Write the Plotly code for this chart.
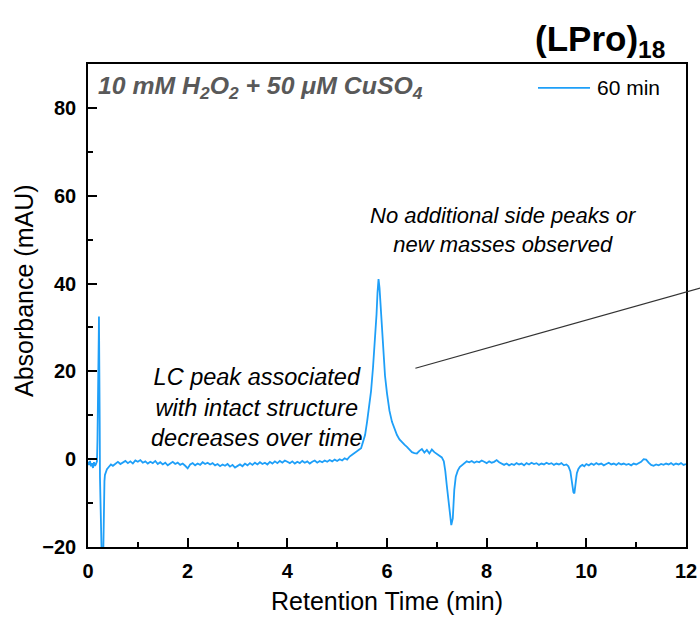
import plotly.graph_objects as go

# ---- data ----
time_min = [
    0.00, 0.02, 0.04, 0.06, 0.08, 0.10, 0.12, 0.14, 0.16, 0.18, 0.19, 0.20, 0.21, 0.215, 0.22,
    0.225, 0.23, 0.235, 0.24, 0.25, 0.26, 0.27, 0.28, 0.29, 0.30, 0.31, 0.32, 0.33, 0.34, 0.36,
    0.38, 0.40, 0.43, 0.46, 0.50,
    0.55, 0.60, 0.65, 0.70, 0.75, 0.80, 0.85, 0.90, 0.95, 1.00, 1.05, 1.10, 1.15, 1.20, 1.25,
    1.30, 1.35, 1.40, 1.45, 1.50, 1.55, 1.60, 1.65, 1.70, 1.75, 1.80, 1.85, 1.90, 1.95, 2.00,
    2.05, 2.10, 2.15, 2.20, 2.25, 2.30, 2.35, 2.40, 2.45, 2.50, 2.55, 2.60, 2.65, 2.70, 2.75,
    2.80, 2.85, 2.90, 2.95, 3.00, 3.05, 3.10, 3.15, 3.20, 3.25, 3.30, 3.35, 3.40, 3.45, 3.50,
    3.55, 3.60, 3.65, 3.70, 3.75, 3.80, 3.85, 3.90, 3.95, 4.00, 4.05, 4.10, 4.15, 4.20, 4.25,
    4.30, 4.35, 4.40, 4.45, 4.50, 4.55, 4.60, 4.65, 4.70, 4.75, 4.80, 4.85, 4.90, 4.95, 5.00,
    5.05, 5.10, 5.15, 5.20, 5.25,
    5.30, 5.35, 5.40, 5.45, 5.48, 5.52, 5.56, 5.60, 5.64, 5.68, 5.72, 5.76, 5.79, 5.81, 5.83,
    5.85, 5.87, 5.90, 5.93, 5.96, 6.00, 6.05, 6.10, 6.15, 6.20, 6.25, 6.30, 6.35, 6.40, 6.45,
    6.50, 6.55, 6.60, 6.65, 6.70, 6.75, 6.80, 6.85, 6.90, 6.95, 7.00, 7.05, 7.10, 7.14, 7.17,
    7.20, 7.23, 7.26, 7.29, 7.32, 7.35, 7.38, 7.42, 7.46, 7.50, 7.55, 7.60,
    7.65, 7.70, 7.75, 7.80, 7.85, 7.90, 7.95, 8.00, 8.05, 8.10, 8.15, 8.20, 8.25, 8.30, 8.35,
    8.40, 8.45, 8.50, 8.55, 8.60, 8.65, 8.70, 8.75, 8.80, 8.85, 8.90, 8.95, 9.00, 9.05, 9.10,
    9.15, 9.20, 9.25, 9.30, 9.35, 9.40, 9.45, 9.50, 9.55, 9.60, 9.64, 9.68, 9.71, 9.74, 9.76,
    9.78, 9.81, 9.84, 9.88, 9.92, 9.96, 10.00, 10.05, 10.10, 10.15, 10.20, 10.25, 10.30, 10.35,
    10.40, 10.45, 10.50, 10.55, 10.60, 10.65, 10.70, 10.75, 10.80, 10.85, 10.90, 10.95, 11.00,
    11.05, 11.10, 11.15, 11.20, 11.25, 11.30, 11.35, 11.40, 11.45, 11.50, 11.55, 11.60, 11.65,
    11.70, 11.75, 11.80, 11.85, 11.90, 11.95, 12.00,
]

absorbance_60min = [
    -0.6, -1.3, -0.4, -1.6, -0.9, -2.0, -0.7, -1.5, -1.1, -0.5, 4.5, 12.0, 12.5, 27.0, 32.5,
    28.0, 18.0, 8.0, -4.0, -11.5, -11.8, -24.0, -30.0, -30.0, -26.0, -14.0, -8.0, -5.0, -3.6, -2.8,
    -2.3, -2.0, -1.6, -1.2, -1.5,
    -1.0, -0.6, -1.1, -0.7, -0.4, -0.9, -0.5, -1.0, -0.3, -0.6, -0.2, -0.8, -0.5, -1.0, -0.6,
    -0.9, -0.4, -1.1, -0.7, -1.2, -0.8, -1.4, -0.9, -0.6, -1.1, -0.8, -1.3, -1.0, -1.5, -2.1,
    -1.2, -0.9, -1.4, -1.0, -1.3, -0.7, -1.1, -0.8, -1.2, -0.9, -1.4, -1.1, -1.6, -1.2, -1.5,
    -1.1, -1.7, -1.3, -1.9, -1.5, -1.2, -1.6, -1.0, -1.4, -0.9, -1.3, -0.8, -1.2, -0.7, -1.1,
    -0.8, -1.2, -0.6, -1.0, -0.5, -0.9, -0.4, -0.8, -0.3, -0.6, -0.9, -0.5, -1.0, -0.6, -0.9,
    -0.4, -0.8, -0.5, -1.0, -0.6, -0.3, -0.8, -0.4, -0.7, -0.3, -0.6, -0.2, -0.5, -0.1, -0.4,
    0.0, -0.3, 0.2, -0.1, 0.6,
    1.0, 1.4, 2.0, 2.4, 2.5, 4.0, 5.5, 8.5, 12.0, 15.5, 21.0, 27.0, 33.0, 38.0, 41.0,
    39.0, 35.0, 28.0, 23.0, 19.0, 15.0, 11.0, 8.5, 6.8, 5.5, 4.5, 3.8, 3.3, 2.8, 2.2,
    1.6, 1.4, 1.3, 1.9, 2.3, 1.5, 2.1, 1.3, 2.2, 1.6, 1.2, 0.8, 0.4, -0.5, -2.7,
    -6.0, -9.5, -13.0, -15.0, -13.5, -7.0, -4.0, -2.6, -1.8, -1.4, -0.8, -0.5,
    -0.7, -0.4, -0.8, -0.5, -0.7, -0.3, -0.6, -0.9, -0.5, -0.8, -0.6, -0.2, -0.7, -1.0, -1.3,
    -1.0, -1.4, -1.1, -1.3, -0.9, -1.2, -1.0, -1.4, -0.9, -1.2, -0.8, -1.1, -0.9, -1.3, -1.0,
    -1.2, -0.8, -1.1, -0.9, -1.3, -1.0, -1.2, -0.9, -1.4, -1.2, -1.6, -2.8, -5.0, -7.5, -7.8,
    -6.0, -3.2, -2.2, -1.6, -1.3, -1.6, -1.1, -1.4, -1.0, -1.3, -0.9, -1.2, -1.0, -1.4,
    -1.1, -0.8, -1.2, -1.0, -1.3, -0.9, -1.2, -1.0, -1.3, -1.1, -1.4, -1.0, -1.2,
    -0.9, -0.6, 0.0, -0.1, -0.8, -1.3, -1.5, -1.2, -1.4, -1.1, -1.3, -1.0, -1.2,
    -0.9, -1.3, -1.0, -1.2, -0.9, -1.3, -1.1,
]

series_name = "60 min"
x_ticks = [0, 2, 4, 6, 8, 10, 12]
y_ticks = [-20, 0, 20, 40, 60, 80]

FONT = "Liberation Sans, Arial, sans-serif"
TRACE_COLOR = "#1E9FF8"

fig = go.Figure()
fig.add_trace(go.Scatter(
    x=time_min, y=absorbance_60min, mode="lines", name=series_name,
    line=dict(color=TRACE_COLOR, width=1.8), showlegend=False,
))

axis_common = dict(
    showline=True, linecolor="black", linewidth=1.6, mirror=True,
    showgrid=False, zeroline=False, automargin=False,
    ticks="inside", ticklen=9, tickwidth=1.6, tickcolor="black",
    tickfont=dict(family=FONT, size=20, color="black", weight="bold"),
)

fig.update_xaxes(
    range=[0, 12], tickvals=x_ticks,
    minor=dict(dtick=1, ticks="inside", ticklen=5, tickwidth=1.5, tickcolor="black"),
    title=dict(text="Retention Time (min)", font=dict(family=FONT, size=25, color="black"), standoff=12),
    ticklabelstandoff=5,
    **axis_common,
)
fig.update_yaxes(
    range=[-20, 90], tickvals=y_ticks,
    minor=dict(dtick=10, ticks="inside", ticklen=5, tickwidth=1.5, tickcolor="black"),
    ticklabelstandoff=6,
    **axis_common,
)

fig.update_layout(
    width=700, height=618,
    margin=dict(l=88, r=14, t=64, b=71),
    paper_bgcolor="white", plot_bgcolor="white",
    font=dict(family=FONT),
    showlegend=False,
)

# y-axis title (sits slightly above the axis centre in the reference)
fig.add_annotation(
    text="Absorbance (mAU)", xref="paper", yref="paper",
    x=-0.107, y=0.530, xanchor="center", yanchor="middle", textangle=-90,
    showarrow=False, font=dict(family=FONT, size=25, color="black"),
)

# legend entry (line sample + label)
fig.add_shape(
    type="line", xref="paper", yref="paper",
    x0=0.7525, x1=0.8395, y0=0.9505, y1=0.9505,
    line=dict(color=TRACE_COLOR, width=1.8),
)
fig.add_annotation(
    text=series_name, xref="paper", yref="paper",
    x=0.847, y=0.9505, xanchor="left", yanchor="middle", showarrow=False,
    font=dict(family=FONT, size=21, color="black"),
)

# title
fig.add_annotation(
    text="<b>(LPro)<sub>18</sub></b>", xref="paper", yref="paper",
    x=0.968, y=1.047, xanchor="right", yanchor="middle", showarrow=False,
    font=dict(family=FONT, size=35, color="black"),
)
# condition label
fig.add_annotation(
    text="<b><i>10 mM H<sub>2</sub>O<sub>2</sub> + 50 μM CuSO<sub>4</sub></i></b>",
    xref="paper", yref="paper", x=0.013, y=0.952, xanchor="left", yanchor="middle",
    showarrow=False, font=dict(family=FONT, size=24.8, color="#595959"),
)
# notes
fig.add_annotation(
    text="<i>No additional side peaks or<br>new masses observed</i>",
    xref="paper", yref="paper", x=0.694, y=0.657, xanchor="center", yanchor="middle",
    showarrow=False, align="center",
    font=dict(family=FONT, size=22, color="black"),
)
fig.add_annotation(
    text="<i>LC peak associated<br>with intact structure<br>decreases over time</i>",
    xref="paper", yref="paper", x=0.283, y=0.288, xanchor="center", yanchor="middle",
    showarrow=False, align="center",
    font=dict(family=FONT, size=23.5, color="black"),
)
# pointer line
fig.add_shape(
    type="line", xref="paper", yref="paper",
    x0=0.5475, y0=0.370, x1=1.0236, y1=0.536,
    line=dict(color="#333333", width=1.2),
)

fig.write_html("out.html")
